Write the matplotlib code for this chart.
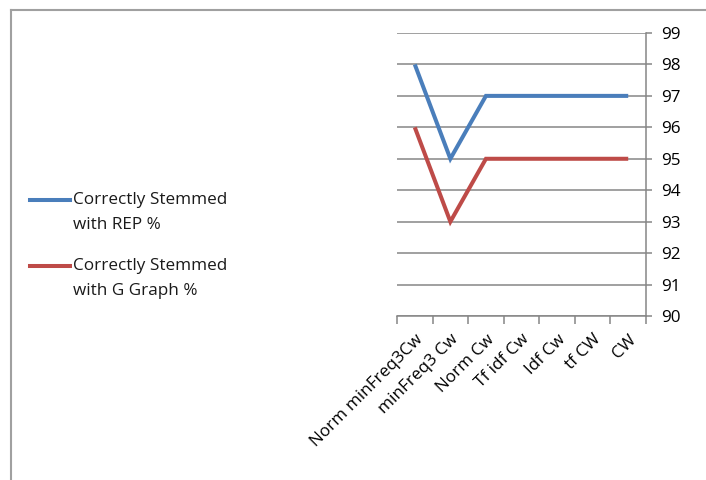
import matplotlib.pyplot as plt
from matplotlib.lines import Line2D

plt.rcParams['font.family'] = ['Open Sans', 'DejaVu Sans']

categories = ["Norm minFreq3Cw", "minFreq3 Cw", "Norm Cw", "Tf idf Cw", "Idf Cw", "tf CW", "CW"]
rep_pct = [98, 95, 97, 97, 97, 97, 97]
ggraph_pct = [96, 93, 95, 95, 95, 95, 95]
series_names = ["Correctly Stemmed\nwith REP %", "Correctly Stemmed\nwith G Graph %"]
colors = ["#4A7EBB", "#BE4B48"]

W, H = 706, 480
fig = plt.figure(figsize=(W / 100, H / 100), dpi=100)
ax = fig.add_axes([397 / W, 1 - 316 / H, (646 - 397) / W, (316 - 33) / H])

x = list(range(len(categories)))
for vals, c in zip([rep_pct, ggraph_pct], colors):
    ax.plot(x, vals, color=c, lw=2.9, solid_capstyle='butt', solid_joinstyle='miter')

ax.set_xlim(-0.5, len(categories) - 0.5)
ax.set_ylim(90, 99)
ax.set_yticks(range(90, 100))
ax.yaxis.tick_right()
ax.grid(axis='y', color='#868686', lw=1.1)
ax.set_axisbelow(True)

# category ticks between categories, labels at centers
ax.set_xticks([i - 0.5 for i in range(len(categories) + 1)])
ax.set_xticklabels([])
ax.set_xticks(x, minor=True)
ax.set_xticklabels(categories, minor=True, rotation=45, ha='right', va='top',
                   rotation_mode='anchor', fontsize=12.3)
ax.tick_params(axis='x', which='minor', length=0, pad=11)
ax.tick_params(axis='x', which='major', length=5.5, color='#868686', width=1.1)
ax.tick_params(axis='y', length=4.5, color='#868686', width=1.1, labelsize=12.3, pad=6.5)

for s in ['top', 'left']:
    ax.spines[s].set_visible(False)
for s in ['bottom', 'right']:
    ax.spines[s].set_color('#868686')
    ax.spines[s].set_linewidth(1.1)

# legend drawn by hand, Excel style
for i, (name, c) in enumerate(zip(series_names, colors)):
    y0 = 1 - (200 + i * 66) / H
    fig.add_artist(Line2D([30 / W, 70 / W], [y0, y0], color=c, lw=2.9,
                          transform=fig.transFigure))
    fig.text(73 / W, y0 + 8 / H, name, ha='left', va='top', fontsize=12.3,
             linespacing=1.75, color='#1a1a1a')

# outer chart frame (only top and left visible)
fig.add_artist(Line2D([11 / W, 11 / W], [0, 1 - 10 / H], color='#a0a0a0', lw=1.5,
                      transform=fig.transFigure))
fig.add_artist(Line2D([11 / W, 1], [1 - 10 / H, 1 - 10 / H], color='#a0a0a0', lw=1.5,
                      transform=fig.transFigure))

fig.savefig("out.png", dpi=100)
